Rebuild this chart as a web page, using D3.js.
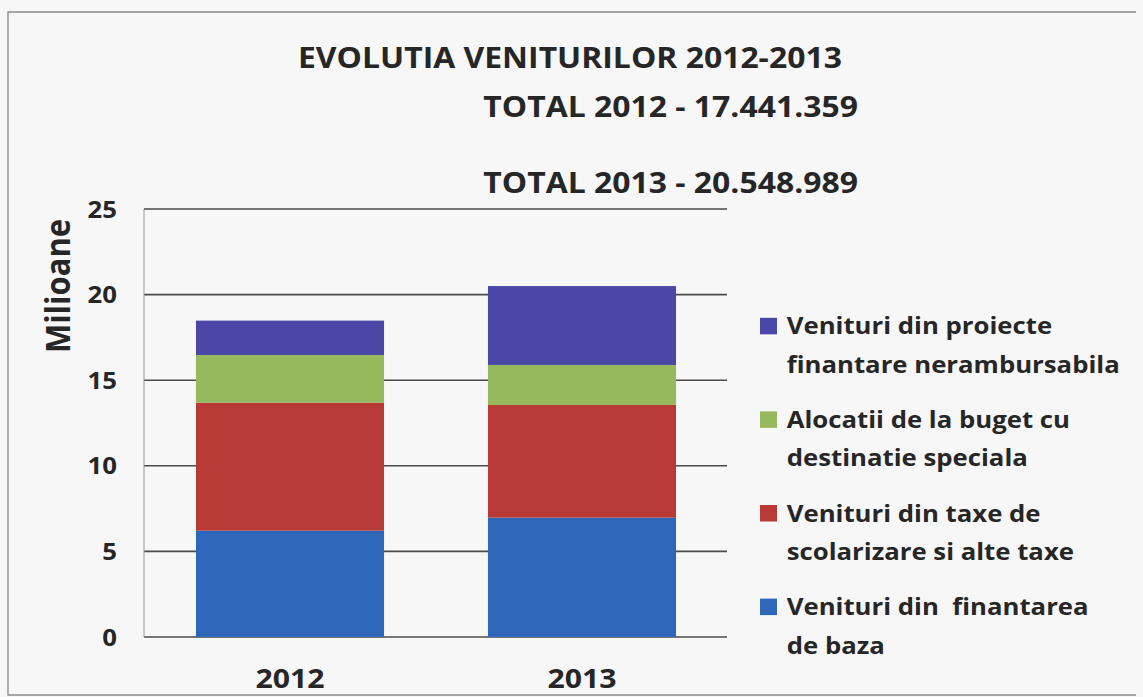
<!DOCTYPE html>
<html>
<head>
<meta charset="utf-8">
<script src="https://cdn.jsdelivr.net/npm/d3@7"></script>
<style>
  html, body { margin: 0; padding: 0; background: #f7f7f8; }
  svg { display: block; }
  text { font-family: "Open Sans", sans-serif; font-weight: 700; fill: #262626; white-space: pre; }
</style>
</head>
<body>
<svg id="chart" width="1143" height="697"></svg>
<script>
// ---- data ----
const categories = ["2012", "2013"];
const seriesKeys = ["baza", "taxe", "alocatii", "proiecte"];
const finantareBaza = [6.21, 6.97];
const taxeScolarizare = [7.48, 6.58];
const alocatiiBuget = [2.78, 2.34];
const proiecteNerambursabile = [2.01, 4.61];
const yTicks = [0, 5, 10, 15, 20, 25];
const titleText = "EVOLUTIA VENITURILOR 2012-2013";
const totalTexts = ["TOTAL 2012 - 17.441.359", "TOTAL 2013 - 20.548.989"];
const yLabel = "Milioane";
const legendLabels = {
  proiecte: ["Venituri din proiecte", "finantare nerambursabila"],
  alocatii: ["Alocatii de la buget cu", "destinatie speciala"],
  taxe: ["Venituri din taxe de", "scolarizare si alte taxe"],
  baza: ["Venituri din  finantarea", "de baza"]
};
const legendOrder = ["proiecte", "alocatii", "taxe", "baza"];

// ---- styling ----
const colors = { baza: "#2e67b9", taxe: "#b83a37", alocatii: "#97b95e", proiecte: "#4b47a7" };
const SX = 1.12; // horizontal stretch of the scanned text

const rows = categories.map((c, i) => ({
  cat: c,
  baza: finantareBaza[i],
  taxe: taxeScolarizare[i],
  alocatii: alocatiiBuget[i],
  proiecte: proiecteNerambursabile[i]
}));

const svg = d3.select("#chart");

// frame
svg.append("path")
  .attr("d", "M1136,12 H8 V695 H1136")
  .attr("fill", "none").attr("stroke", "#8a8a8a").attr("stroke-width", 1.3);

const x = d3.scaleBand().domain(categories).range([144, 728])
  .paddingInner(0.356).paddingOuter(0.178);
const y = d3.scaleLinear().domain([0, 25]).range([637, 209]);

// gridlines
svg.append("g").selectAll("line").data(yTicks).join("line")
  .attr("x1", 144).attr("x2", 727)
  .attr("y1", d => y(d)).attr("y2", d => y(d))
  .attr("stroke", "#4a4a4a").attr("stroke-width", 1.6);

// left axis line
svg.append("line").attr("x1", 144).attr("x2", 144)
  .attr("y1", y(25)).attr("y2", y(0))
  .attr("stroke", "#9a9a9a").attr("stroke-width", 1);

// bars
const stack = d3.stack().keys(seriesKeys)(rows);
svg.append("g").selectAll("g").data(stack).join("g")
  .attr("fill", d => colors[d.key])
  .selectAll("rect").data(d => d).join("rect")
  .attr("x", d => x(d.data.cat))
  .attr("width", x.bandwidth())
  .attr("y", d => y(d[1]))
  .attr("height", d => y(d[0]) - y(d[1]));

// y tick labels
svg.append("g").selectAll("text").data(yTicks).join("text")
  .attr("transform", d => `translate(117,${y(d) + 8.5}) scale(${SX},1)`)
  .attr("text-anchor", "end")
  .style("font-size", "23px")
  .text(d => d);

// x labels
svg.append("g").selectAll("text").data(categories).join("text")
  .attr("transform", d => `translate(${x(d) + x.bandwidth() / 2},688) scale(${SX},1)`)
  .attr("text-anchor", "middle")
  .style("font-size", "27px")
  .text(d => d);

// y axis title
svg.append("text")
  .attr("transform", `translate(70,286) scale(${SX},1) rotate(-90)`)
  .attr("text-anchor", "middle")
  .style("font-size", "31px")
  .text(yLabel);

// title and totals
svg.append("text")
  .attr("transform", `translate(298,68) scale(${SX},1)`)
  .style("font-size", "28.5px")
  .text(titleText);
const totalY = [117, 193];
svg.append("g").selectAll("text").data(totalTexts).join("text")
  .attr("transform", (d, i) => `translate(858,${totalY[i]}) scale(${SX},1)`)
  .attr("text-anchor", "end")
  .style("font-size", "28.5px")
  .text(d => d);

// legend
const lg = svg.append("g").selectAll("g").data(legendOrder).join("g")
  .attr("transform", (d, i) => `translate(760,${334.3 + i * 93.6})`);
lg.append("rect")
  .attr("x", 0).attr("y", -16.5).attr("width", 17).attr("height", 16.5)
  .attr("fill", d => colors[d]);
lg.each(function(k) {
  const g = d3.select(this);
  legendLabels[k].forEach((line, j) => {
    g.append("text")
      .attr("transform", `translate(26.7,${j * 38.4}) scale(${SX},1)`)
      .style("font-size", "23px")
      .text(line);
  });
});
</script>
</body>
</html>
